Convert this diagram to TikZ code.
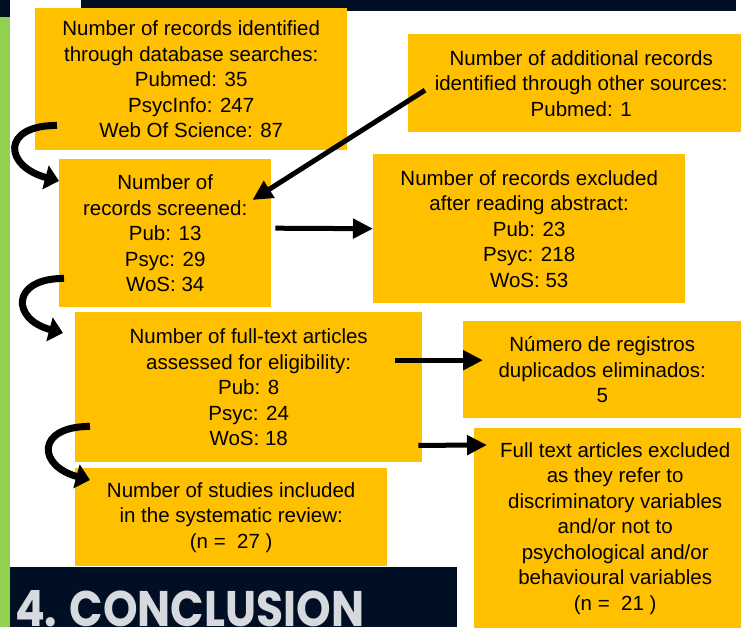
\documentclass[tikz,border=0pt]{standalone}
\usepackage{fontspec}
\setmainfont{Liberation Sans}
\newfontfamily\headfont{Poppins}
\usetikzlibrary{arrows.meta, positioning, calc}
\definecolor{boxorange}{HTML}{FFC000}
\definecolor{darknavy}{HTML}{000F24}
\definecolor{leafgreen}{HTML}{92D050}
\definecolor{headgray}{HTML}{D6D9DD}

\begin{document}
\begin{tikzpicture}[x=1pt, y=-1pt,
    prisma/.style={fill=boxorange, anchor=north west, inner sep=0pt, align=center,
        font=\fontsize{20.5}{25.5}\selectfont},
    flowarrow/.style={line width=5pt, -{Triangle[length=20pt, width=19pt]}},
    bendarrow/.style={line width=7pt, -{Triangle[length=14pt, width=24pt]}}]
    \useasboundingbox (0,0) rectangle (741,627);
    \clip (0,0) rectangle (741,627);
    % frame of the slide
    \fill[darknavy] (81,0) rectangle (736,11);
    \fill[darknavy] (0,0) rectangle (10,17);
    \fill[leafgreen] (0,17) rectangle (10,627);
    \fill[darknavy] (10,567) rectangle (457,627);
    \node[anchor=base west, inner sep=0pt, xscale=0.88, text=headgray, font=\headfont\bfseries\fontsize{50}{50}\selectfont] (conc) at (15,626) {4. CONCLUSION};

    % boxes
    \node[prisma, minimum width=312pt, minimum height=142pt] (db) at (35,8)
        {Number of records identified\\through database searches:\\Pubmed: 35\\PsycInfo: 247\\Web Of Science: 87};
    \node[prisma, minimum width=346pt, minimum height=98pt] (other) at (408,34)
        {Number of additional records\\identified through other sources:\\Pubmed: 1};
    \node[prisma, minimum width=212pt, minimum height=148pt] (screened) at (59,159)
        {Number of\\records screened:\\Pub: 13\\Psyc: 29\\WoS: 34};
    \node[prisma, minimum width=312pt, minimum height=149pt] (abstract) at (373,154)
        {Number of records excluded\\after reading abstract:\\Pub: 23\\Psyc: 218\\WoS: 53};
    \node[prisma, minimum width=347pt, minimum height=150pt] (fulltext) at (75,312)
        {Number of full-text articles\\assessed for eligibility:\\Pub: 8\\Psyc: 24\\WoS: 18};
    \node[prisma, minimum width=278pt, minimum height=97pt] (dup) at (463,321)
        {Número de registros\\duplicados eliminados:\\5};
    \node[prisma, minimum width=282pt, minimum height=200pt] (excl) at (474,428)
        {Full text articles excluded\\as they refer to\\discriminatory variables\\and/or not to\\psychological and/or\\behavioural variables\\(n =\ \ 21 )};
    \node[prisma, minimum width=312pt, minimum height=98pt] (incl) at (75,468)
        {Number of studies included\\in the systematic review:\\(n =\ \ 27 )};

    % arrows
    \draw[flowarrow] ($(other.west)+(17,7)$) -- ($(screened.north east)+(-19,41)$);
    \draw[flowarrow] ($(screened.east)+(4,-5)$) -- (abstract.west);
    \draw[flowarrow] ($(fulltext.east)+(-27,-27)$) -- ($(dup.west)+(20,-9.5)$);
    \draw[flowarrow] ($(fulltext.south east)+(-4,-17)$) -- ($(excl.north west)+(13,17)$);
    \draw[bendarrow] ($(db.south west)+(22,-25)$) to[out=180, in=165, looseness=2.6] ($(screened.north west)+(0,22)$);
    \draw[bendarrow] ($(screened.south west)+(5,-29)$) to[out=180, in=165, looseness=2.5] ($(fulltext.north west)+(-12,21)$);
    \draw[bendarrow] ($(fulltext.south west)+(15,-36)$) to[out=180, in=165, looseness=2.6] ($(incl.north west)+(15,12)$);
\end{tikzpicture}
\end{document}
